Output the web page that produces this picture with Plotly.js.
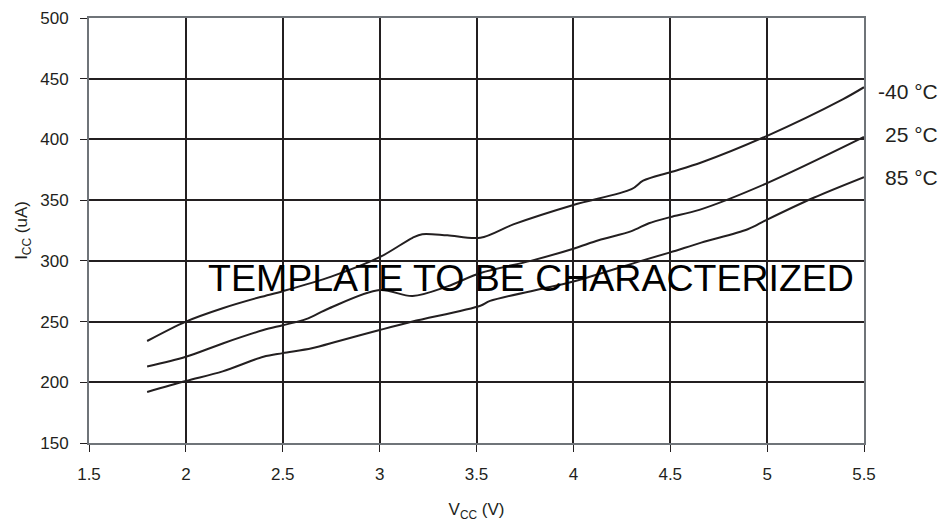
<!DOCTYPE html>
<html>
<head>
<meta charset="utf-8">
<script src="https://cdn.plot.ly/plotly-3.0.1.min.js"></script>
<style>html,body{margin:0;padding:0;background:#fff;}#chart{width:945px;height:522px;}</style>
</head>
<body>
<div id="chart"></div>
<script>
// Data
const seriesNames = ["-40 °C", "25 °C", "85 °C"];

const vccM40 = [1.8, 2.0, 2.19, 2.38, 2.5, 2.75, 3.0, 3.17, 3.22, 3.35, 3.52, 3.69, 4.0, 4.3, 4.36, 4.5, 4.66, 5.0, 5.39, 5.5];
const iccM40 = [234, 250, 261, 270, 275, 287, 303, 319, 322, 321, 319, 330, 346, 359, 366, 373, 381, 403, 433, 443];

const vcc25 = [1.8, 2.0, 2.19, 2.4, 2.5, 2.62, 2.74, 3.0, 3.17, 3.35, 3.52, 3.78, 4.0, 4.13, 4.3, 4.39, 4.5, 4.65, 5.0, 5.5];
const icc25 = [213, 221, 232, 243, 247, 252, 261, 276, 271, 279, 290, 300, 310, 317, 324.5, 331, 336, 342, 364, 402];

const vcc85 = [1.8, 2.0, 2.19, 2.4, 2.5, 2.65, 2.79, 3.0, 3.17, 3.52, 3.57, 4.0, 4.35, 4.5, 4.66, 4.9, 5.0, 5.24, 5.5];
const icc85 = [192, 201, 209, 221, 224, 228, 234, 243, 250, 263, 267, 283, 300, 307, 315, 326, 334, 352, 369];

const xTicks = [1.5, 2, 2.5, 3, 3.5, 4, 4.5, 5, 5.5];
const yTicks = [150, 200, 250, 300, 350, 400, 450, 500];

const watermark = "TEMPLATE TO BE CHARACTERIZED";

const lineStyle = {color: "#231f20", width: 2, shape: "spline", smoothing: 0.9};
const traces = [
  {x: vccM40, y: iccM40, name: seriesNames[0]},
  {x: vcc25, y: icc25, name: seriesNames[1]},
  {x: vcc85, y: icc85, name: seriesNames[2]}
].map(t => Object.assign(t, {type: "scatter", mode: "lines", line: lineStyle, hoverinfo: "skip"}));

const font = "Liberation Sans, Arial, Helvetica, sans-serif";
const labelY = [0.826, 0.725, 0.624];

const layout = {
  width: 945, height: 522,
  margin: {l: 89, r: 81, t: 18, b: 79},
  paper_bgcolor: "#ffffff", plot_bgcolor: "#ffffff",
  showlegend: false,
  font: {family: font, color: "#231f20", size: 17},
  xaxis: {
    range: [1.5, 5.5], tickvals: xTicks, ticktext: xTicks.map(String),
    showgrid: true, gridcolor: "#231f20", gridwidth: 2,
    showline: true, mirror: true, linecolor: "#6f7479", linewidth: 2,
    ticks: "outside", ticklen: 7, tickcolor: "#231f20", tickwidth: 1,
    ticklabelstandoff: 8,
    zeroline: false, tickfont: {size: 17, family: font, color: "#231f20"},
    title: {text: "V<sub>CC</sub> (V)", font: {size: 17, family: font, color: "#231f20"}, standoff: 20}
  },
  yaxis: {
    range: [150, 500], tickvals: yTicks, ticktext: yTicks.map(String),
    showgrid: true, gridcolor: "#231f20", gridwidth: 2,
    showline: true, mirror: true, linecolor: "#6f7479", linewidth: 2,
    ticks: "outside", ticklen: 7, tickcolor: "#231f20", tickwidth: 1,
    ticklabelstandoff: 8,
    zeroline: false, tickfont: {size: 17, family: font, color: "#231f20"},
    title: {text: "I<sub>CC</sub> (uA)", font: {size: 17, family: font, color: "#231f20"}, standoff: 8}
  },
  annotations: [
    {text: watermark, xref: "x", yref: "y", x: 3.78, y: 286, showarrow: false,
     xanchor: "center", yanchor: "middle", font: {size: 37.5, family: font, color: "#000000"}}
  ].concat(seriesNames.map((n, i) => ({
    text: n, xref: "paper", yref: "paper", x: 1.098, y: labelY[i], showarrow: false,
    xanchor: "right", yanchor: "middle", font: {size: 21, family: font, color: "#231f20"}
  })))
};

Plotly.newPlot("chart", traces, layout, {staticPlot: true, displayModeBar: false});
</script>
</body>
</html>
